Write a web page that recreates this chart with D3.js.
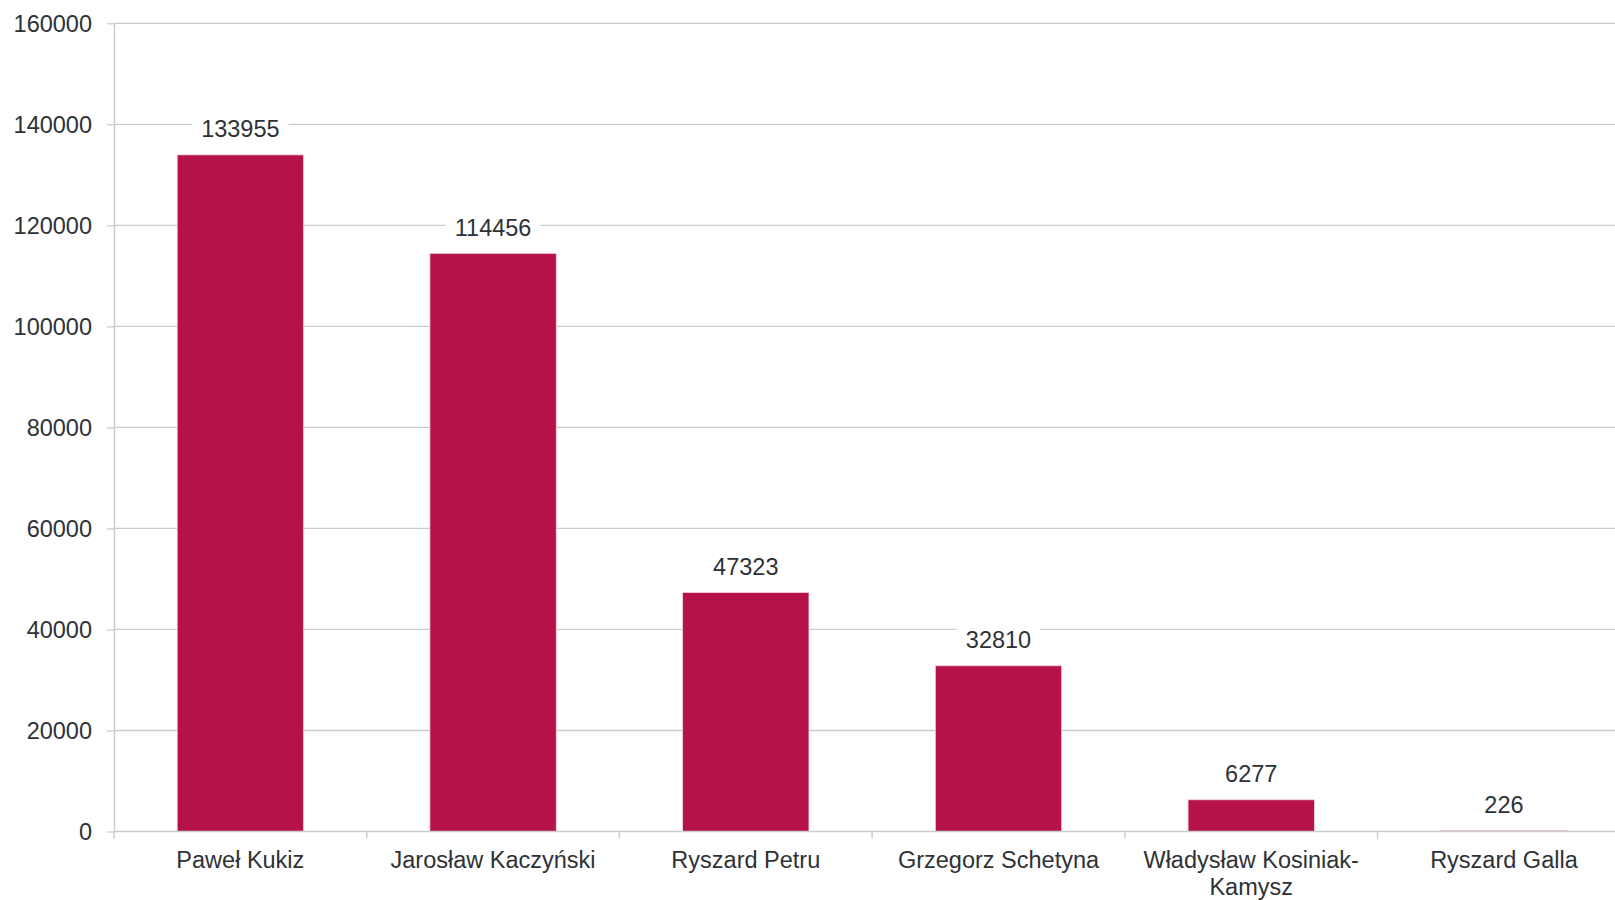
<!DOCTYPE html>
<html><head><meta charset="utf-8">
<script src="https://cdn.jsdelivr.net/npm/d3@7"></script>
<style>
html,body{margin:0;padding:0;background:#fff;overflow:hidden;}
text{font-family:"Liberation Sans",Arial,sans-serif;}
</style></head>
<body>
<svg id="chart" width="1615" height="900"></svg>
<script>
const categories = ["Paweł Kukiz", "Jarosław Kaczyński", "Ryszard Petru", "Grzegorz Schetyna", "Władysław Kosiniak-Kamysz", "Ryszard Galla"];
const categoryLines = [["Paweł Kukiz"], ["Jarosław Kaczyński"], ["Ryszard Petru"], ["Grzegorz Schetyna"], ["Władysław Kosiniak-", "Kamysz"], ["Ryszard Galla"]];
const values = [133955, 114456, 47323, 32810, 6277, 226];
const yTicks = [0, 20000, 40000, 60000, 80000, 100000, 120000, 140000, 160000];

(function() {
const svg = d3.select("#chart");
const pl = 114, pr = 1630.3, pt = 23.3, pb = 831.5;
const textColor = "#2e3236", gridColor = "#c9cdd1", barColor = "#B51247";

const x = d3.scaleBand().domain(categories).range([pl, pr]).paddingInner(0.5).paddingOuter(0.25);
const y = d3.scaleLinear().domain([0, 160000]).range([pb, pt]);

// gridlines
svg.append("g").selectAll("line").data(yTicks.filter(d => d > 0)).join("line")
  .attr("x1", pl).attr("x2", pr).attr("y1", d => y(d)).attr("y2", d => y(d))
  .attr("stroke", gridColor).attr("stroke-width", 1.3);

// y axis
const yAxis = svg.append("g").attr("transform", `translate(${pl},0)`)
  .call(d3.axisLeft(y).tickValues(yTicks).tickSize(7).tickPadding(15).tickFormat(d3.format("d")));
yAxis.select(".domain").attr("stroke", gridColor).attr("stroke-width", 1.5).attr("d", `M0.5,${pt}V${pb}`);
yAxis.selectAll(".tick line").attr("stroke", gridColor).attr("stroke-width", 1.3);
yAxis.selectAll(".tick text").attr("fill", textColor).style("font-size", "23.5px").attr("dy", "0.35em");

// bars
svg.append("g").selectAll("rect").data(values).join("rect")
  .attr("x", (d, i) => x(categories[i]))
  .attr("width", x.bandwidth())
  .attr("y", d => y(d))
  .attr("height", d => Math.max(1, pb - y(d)))
  .attr("fill", barColor)
  .attr("stroke", "#f3d6df").attr("stroke-width", 0.8);

// x axis
const step = x.step();
const boundaries = d3.range(categories.length + 1).map(i => pl + i * step);
const xg = svg.append("g");
xg.append("line").attr("x1", pl).attr("x2", pr).attr("y1", pb).attr("y2", pb)
  .attr("stroke", gridColor).attr("stroke-width", 1.5);
xg.selectAll("line.tk").data(boundaries).join("line").attr("class", "tk")
  .attr("x1", d => d).attr("x2", d => d).attr("y1", pb).attr("y2", pb + 7)
  .attr("stroke", gridColor).attr("stroke-width", 1.5);

// category labels
const cl = svg.append("g").selectAll("text").data(categories).join("text")
  .attr("x", d => x(d) + x.bandwidth() / 2)
  .attr("y", 868)
  .attr("text-anchor", "middle")
  .attr("fill", textColor).style("font-size", "23.5px");
cl.each(function(d, i) {
  const t = d3.select(this);
  categoryLines[i].forEach((ln, j) => {
    t.append("tspan").attr("x", x(d) + x.bandwidth() / 2).attr("dy", j === 0 ? 0 : 27).text(ln);
  });
});

// value labels with white background
const vl = svg.append("g").selectAll("g").data(values).join("g")
  .attr("transform", (d, i) => `translate(${x(categories[i]) + x.bandwidth() / 2},${y(d) - 17.5})`);
vl.append("text").attr("text-anchor", "middle").attr("fill", textColor).style("font-size", "23.5px")
  .text(d => d3.format("d")(d));
vl.each(function() {
  const g = d3.select(this);
  const bb = g.select("text").node().getBBox();
  g.insert("rect", "text").attr("x", bb.x - 9).attr("y", bb.y - 1).attr("width", bb.width + 18).attr("height", bb.height + 2).attr("fill", "#fff");
});
})();
</script>
</body></html>
